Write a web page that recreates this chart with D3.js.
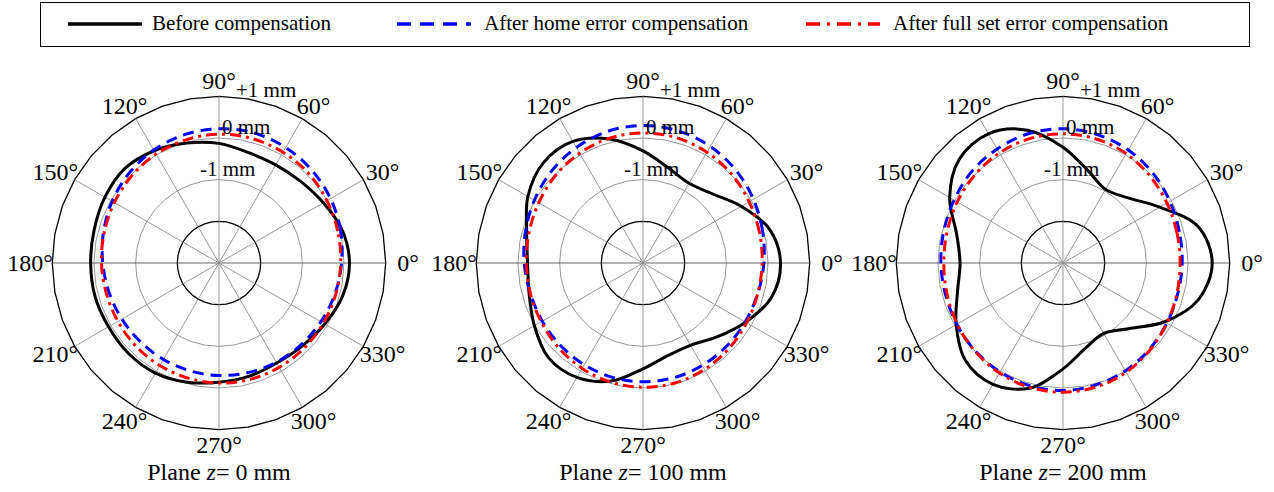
<!DOCTYPE html>
<html>
<head>
<meta charset="utf-8">
<script src="https://cdn.jsdelivr.net/npm/d3@7"></script>
<style>
  body { margin: 0; background: #fff; }
  svg { display: block; font-family: "Liberation Serif", "Times New Roman", serif; }
</style>
</head>
<body>
<svg width="1274" height="492"></svg>
<script>
// angles of the sampled points (deg), and radial error in mm at each angle
var angles = [0, 15, 30, 45, 60, 75, 90, 105, 120, 135, 150, 165, 180, 195, 210, 225, 240, 255, 270, 285, 300, 315, 330, 345];

var planes = ["0", "100", "200"];

var before = [
  [0.13, 0.06, -0.11, -0.23, -0.28, -0.26, -0.13, -0.02, 0.11, 0.20, 0.16, 0.10, 0.08, 0.08, 0.06, 0.07, 0.05, -0.04, -0.14, -0.19, -0.23, -0.18, -0.07, 0.07],
  [0.30, 0.14, -0.28, -0.65, -0.79, -0.64, -0.31, 0.08, 0.37, 0.39, 0.19, -0.11, -0.23, -0.17, 0.01, 0.21, 0.17, -0.07, -0.46, -0.70, -0.72, -0.49, -0.16, 0.19],
  [0.58, 0.36, -0.32, -0.79, -0.96, -0.70, -0.22, 0.30, 0.58, 0.52, 0.14, -0.36, -0.53, -0.38, -0.04, 0.31, 0.36, 0.11, -0.46, -0.89, -1.05, -0.77, -0.18, 0.37]
];
var homeComp = [
  [-0.06, 0.02, 0.09, 0.15, 0.20, 0.23, 0.22, 0.19, 0.13, 0.05, -0.04, -0.13, -0.21, -0.27, -0.31, -0.33, -0.33, -0.32, -0.30, -0.28, -0.25, -0.22, -0.18, -0.12],
  [-0.10, -0.03, 0.06, 0.15, 0.23, 0.28, 0.30, 0.27, 0.20, 0.11, 0.01, -0.08, -0.15, -0.20, -0.21, -0.20, -0.18, -0.16, -0.15, -0.15, -0.16, -0.17, -0.17, -0.15],
  [-0.14, -0.11, -0.04, 0.05, 0.13, 0.19, 0.22, 0.21, 0.16, 0.10, 0.02, -0.04, -0.07, -0.08, -0.06, -0.02, 0.02, 0.05, 0.06, 0.03, -0.01, -0.07, -0.12, -0.15]
];
var fullComp = [
  [-0.08, -0.05, -0.01, 0.04, 0.07, 0.09, 0.09, 0.06, 0.02, -0.04, -0.10, -0.15, -0.18, -0.20, -0.20, -0.18, -0.16, -0.14, -0.12, -0.11, -0.11, -0.11, -0.11, -0.10],
  [-0.14, -0.11, -0.06, 0.01, 0.07, 0.11, 0.12, 0.10, 0.04, -0.03, -0.11, -0.17, -0.20, -0.20, -0.18, -0.13, -0.08, -0.04, -0.02, -0.02, -0.05, -0.09, -0.13, -0.15],
  [-0.19, -0.17, -0.12, -0.05, 0.03, 0.08, 0.10, 0.09, 0.05, -0.01, -0.07, -0.12, -0.14, -0.12, -0.07, -0.01, 0.05, 0.09, 0.10, 0.08, 0.03, -0.05, -0.12, -0.17]
];

var gridAngles = [0, 30, 60, 90, 120, 150, 180, 210, 240, 270, 300, 330];
var ringTicks = [-2, -1, 0, 1];
var ringLabels = ["-1 mm", "0 mm", "+1 mm"];

var seriesNames = ["Before compensation", "After home error compensation", "After full set error compensation"];
var seriesColors = ["#000", "#0000ff", "#ff0000"];
var seriesDash = [null, "11,7", "11,5,3,5"];

var svg = d3.select("svg"),
    R = 166.7,
    cy = 263,
    centers = [219, 643, 1063];

var r = d3.scaleLinear().domain([-3, 1]).range([0, R]);
var rad = function(deg) { return deg * Math.PI / 180; };

// legend
var legend = svg.append("g");
legend.append("rect")
    .attr("x", 40.5).attr("y", 2.5).attr("width", 1209).attr("height", 44)
    .attr("fill", "#fff").attr("stroke", "#000").attr("stroke-width", 1);
var legX = [68, 397, 806];
seriesNames.forEach(function(name, i) {
    legend.append("line")
        .attr("x1", legX[i]).attr("x2", legX[i] + 74)
        .attr("y1", 24).attr("y2", 24)
        .attr("stroke", seriesColors[i]).attr("stroke-width", 3.5)
        .attr("stroke-dasharray", i == 1 ? "14,9" : i == 2 ? "14,7,3,7" : null);
    legend.append("text")
        .attr("x", legX[i] + (i == 0 ? 84 : 87)).attr("y", 30)
        .attr("font-size", 21)
        .text(name);
});

var circlePts = d3.range(0, 360, 10);
var ringLine = d3.lineRadial()
    .angle(function(d) { return rad(90 - d); })
    .curve(d3.curveLinearClosed);

planes.forEach(function(p, k) {
    var g = svg.append("g").attr("transform", "translate(" + centers[k] + "," + cy + ")");

    // rings
    ringTicks.forEach(function(t) {
        g.append("path")
            .attr("d", ringLine.radius(r(t))(circlePts))
            .attr("fill", "none")
            .attr("stroke", (t == 1 || t == -2) ? "#000" : "#8c8c8c")
            .attr("stroke-width", (t == 1 || t == -2) ? 1.3 : 0.9);
    });

    // spokes
    g.selectAll(".spoke").data(gridAngles.slice(0, 6)).enter().append("line")
        .attr("x1", function(d) { return -R * Math.cos(rad(d)); })
        .attr("y1", function(d) { return R * Math.sin(rad(d)); })
        .attr("x2", function(d) { return R * Math.cos(rad(d)); })
        .attr("y2", function(d) { return -R * Math.sin(rad(d)); })
        .attr("stroke", function(d) { return d == 0 ? "#555" : "#8c8c8c"; })
        .attr("stroke-width", 0.9);

    // angle labels
    g.selectAll(".alab").data(gridAngles).enter().append("text")
        .attr("x", function(d) { return 189 * Math.cos(rad(d)); })
        .attr("y", function(d) { return -182 * Math.sin(rad(d)); })
        .attr("text-anchor", "middle")
        .attr("dy", "0.35em")
        .attr("font-size", 24)
        .text(function(d) { return d + "\u00b0"; });

    // data
    var line = d3.lineRadial()
        .angle(function(d, i) { return rad(90 - angles[i]); })
        .radius(function(d) { return r(d); })
        .curve(d3.curveCatmullRomClosed.alpha(0.5));

    [before, homeComp, fullComp].forEach(function(s, i) {
        g.append("path")
            .attr("d", line(s[k]))
            .attr("fill", "none")
            .attr("stroke", seriesColors[i])
            .attr("stroke-width", 3)
            .attr("stroke-dasharray", seriesDash[i]);
    });

    // radial labels
    var labDx = [-19, 3, 17], labDy = [-4, -4, 1];
    [-1, 0, 1].forEach(function(t, i) {
        g.append("text")
            .attr("x", labDx[i])
            .attr("y", -r(t) + labDy[i])
            .attr("font-size", 21)
            .text(ringLabels[i]);
    });

    // title
    var title = g.append("text")
        .attr("x", 0).attr("y", 217)
        .attr("text-anchor", "middle")
        .attr("font-size", 24);
    title.append("tspan").text("Plane ");
    title.append("tspan").attr("font-style", "italic").text("z");
    title.append("tspan").text("= " + p + " mm");
});
</script>
</body>
</html>
